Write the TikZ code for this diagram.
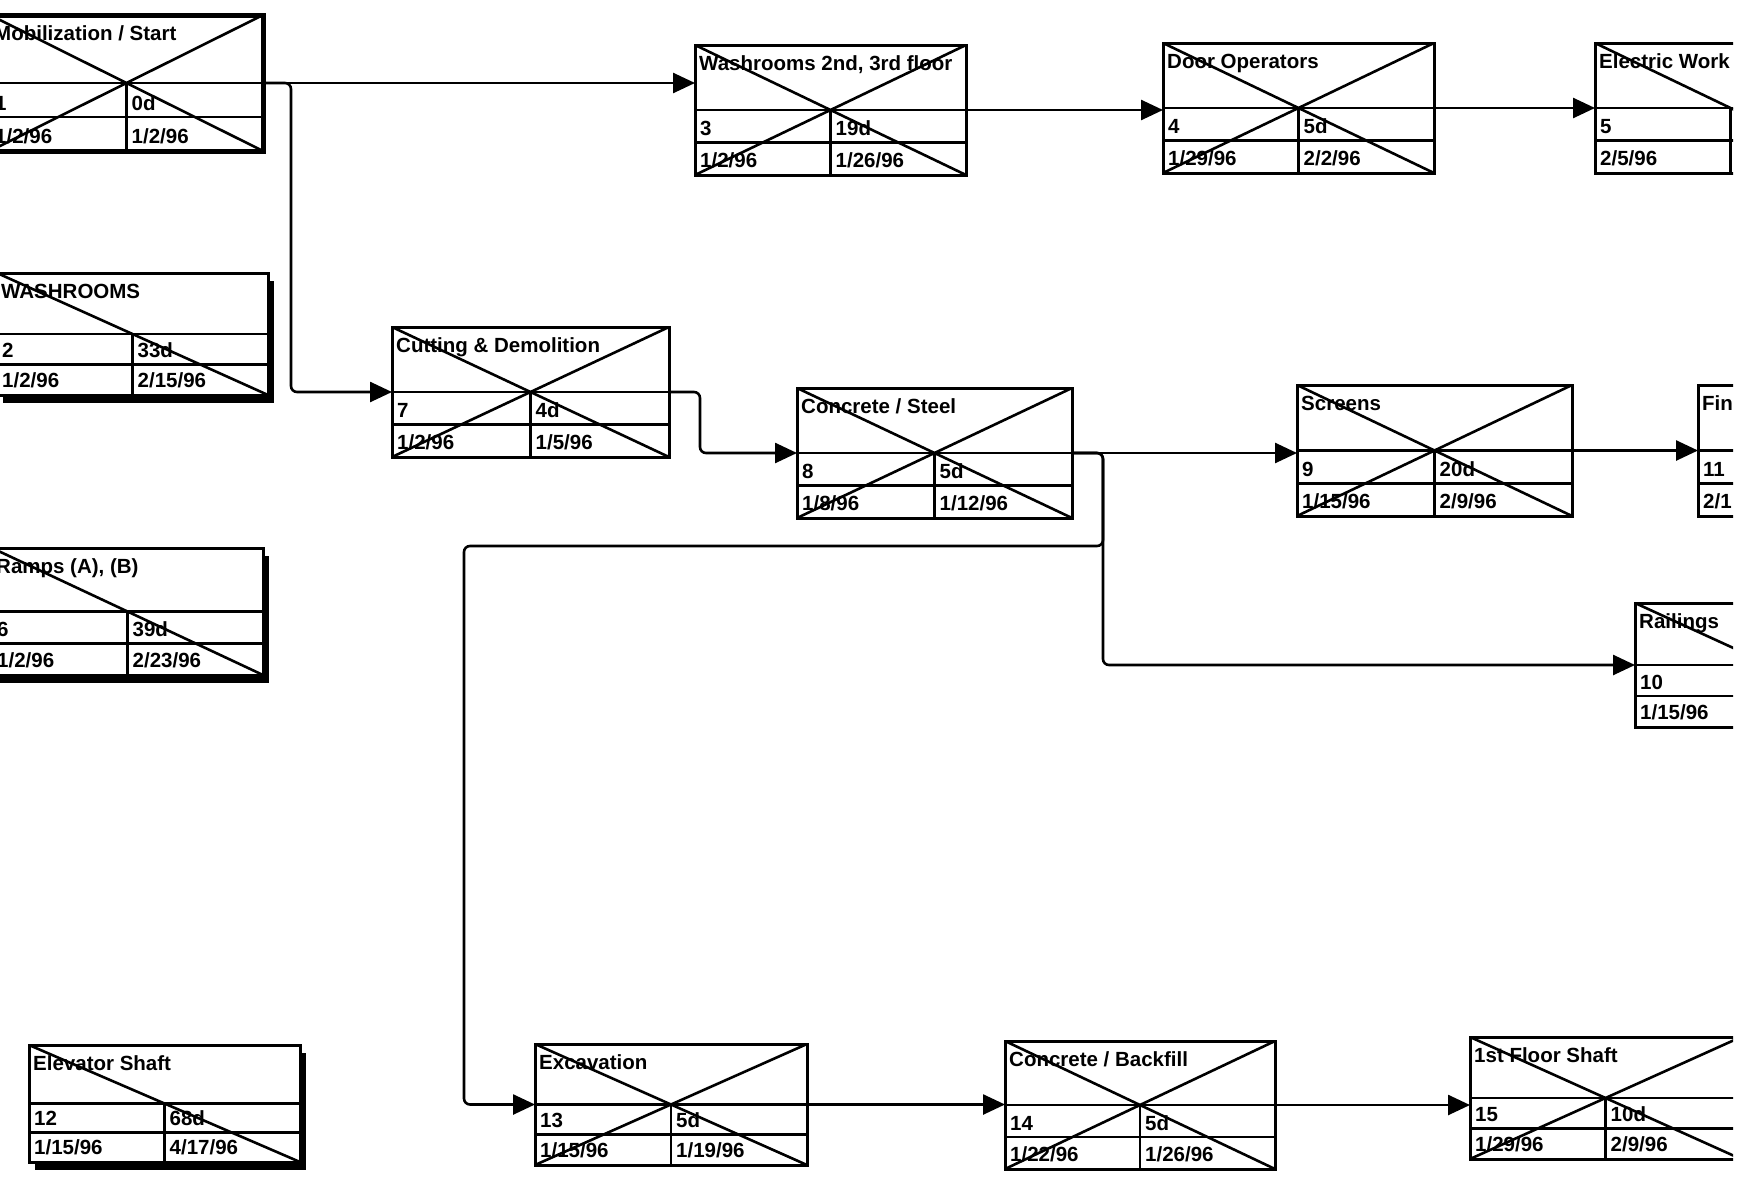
\documentclass[tikz,border=0pt]{standalone}
\usepackage{fontspec}
\setmainfont{Liberation Sans}
\usetikzlibrary{arrows.meta,calc,shadows}

\tikzset{
  pert/.style={draw, fill=white, line width=3pt, inner sep=0pt, outer sep=0pt,
    anchor=north west, minimum width=271pt, minimum height=130pt},
  cell/.style={line width=2.6pt},
  txt/.style={font=\fontsize{20.5}{24}\selectfont\bfseries, inner sep=0pt, anchor=base west},
  crossed/.style={path picture={
    \draw[cell] (path picture bounding box.north west) -- (path picture bounding box.south east)
                (path picture bounding box.south west) -- (path picture bounding box.north east);}},
  halfcrossed/.style={path picture={
    \draw[cell] (path picture bounding box.north west) -- (path picture bounding box.south east);}},
  shadowed/.style={drop shadow={shadow xshift=6pt, shadow yshift=-8pt, fill=black, opacity=1}},
  link/.style={draw, line width=2.6pt, rounded corners=6pt, -{Triangle[length=22pt,width=20pt]}}
}

% 任务框: 选项, 名称, 左上角, 名称文字, 编号, 工期, 开始, 结束
\newcommand{\pertbox}[8][]{%
  \node[pert, #1] (#2) at (#3) {};
  \draw[cell] (#2.west) -- (#2.east);
  \draw[cell] ($(#2.west)!.5!(#2.south west)$) -- ($(#2.east)!.5!(#2.south east)$);
  \draw[cell] (#2.center) -- (#2.south);
  \node[txt] at ($(#2.north west)+(4,25)$) {#4};
  \node[txt] at ($(#2.west)!.5!(#2.south west)+(5,-7)$) {#5};
  \node[txt] at ($(#2.center)!.5!(#2.south)+(5,-7)$) {#6};
  \node[txt] at ($(#2.south west)+(5,-8)$) {#7};
  \node[txt] at ($(#2.south)+(5,-8)$) {#8};
}

\begin{document}
\begin{tikzpicture}[x=1pt, y=-1pt]
  \useasboundingbox (0,0) rectangle (1741,1178);
  \begin{scope}
  \clip (0,0) rectangle (1733,1178);
  % 左列
  \pertbox[line width=5pt, crossed, minimum width=273pt, minimum height=136pt]{mob}{-10,15}{Mobilization / Start}{1}{0d}{1/2/96}{1/2/96}
  \pertbox[shadowed, halfcrossed, minimum height=122pt]{washrm}{-3,273}{WASHROOMS}{2}{33d}{1/2/96}{2/15/96}
  \pertbox[shadowed, halfcrossed, minimum height=127pt]{ramps}{-8,548}{Ramps (A), (B)}{6}{39d}{1/2/96}{2/23/96}
  \pertbox[shadowed, halfcrossed, minimum height=117pt]{elev}{29,1045}{Elevator Shaft}{12}{68d}{1/15/96}{4/17/96}
  % 上排
  \pertbox[crossed]{wash23}{695,45}{Washrooms 2nd, 3rd floor}{3}{19d}{1/2/96}{1/26/96}
  \pertbox[crossed]{door}{1163,43}{Door Operators}{4}{5d}{1/29/96}{2/2/96}
  \pertbox[halfcrossed]{elec}{1595,43}{Electric Work}{5}{}{2/5/96}{}
  % 中排
  \pertbox[crossed, minimum width=277pt]{cut}{392,327}{Cutting \& Demolition}{7}{4d}{1/2/96}{1/5/96}
  \pertbox[crossed, minimum width=275pt]{conc}{797,388}{Concrete / Steel}{8}{5d}{1/8/96}{1/12/96}
  \pertbox[crossed, minimum width=275pt, minimum height=131pt]{screens}{1297,385}{Screens}{9}{20d}{1/15/96}{2/9/96}
  \pertbox[minimum height=131pt]{fin}{1698,385}{Fin}{11}{}{2/1}{}
  \pertbox[halfcrossed, minimum height=124pt]{rail}{1635,603}{Railings}{10}{}{1/15/96}{}
  % 下排
  \pertbox[crossed, minimum width=272pt, minimum height=121pt]{exc}{535,1044}{Excavation}{13}{5d}{1/15/96}{1/19/96}
  \pertbox[crossed, minimum width=270pt, minimum height=128pt]{cback}{1005,1041}{Concrete / Backfill}{14}{5d}{1/22/96}{1/26/96}
  \pertbox[crossed, minimum height=122pt]{floor1}{1470,1037}{1st Floor Shaft}{15}{10d}{1/29/96}{2/9/96}
  % 连线
  \draw[link] (mob.east) -- (mob.east -| wash23.west);
  \draw[link] (mob.east) -- ++(28,0) |- (cut.west);
  \draw[link] (wash23.east) -- (wash23.east -| door.west);
  \draw[link] (door.east) -- (door.east -| elec.west);
  \draw[link] (cut.east) -- ++(31,0) |- (conc.west);
  \draw[link] (conc.east) -- (conc.east -| screens.west);
  \draw[link] (screens.east) -- (screens.east -| fin.west);
  \draw[link] (conc.east) -- ++(31,0) |- (rail.west);
  \draw[link] (conc.east) -- ++(31,0) -- ++(0,93) -- ++(-639,0) |- (exc.west);
  \draw[link] (exc.east) -- (exc.east -| cback.west);
  \draw[link] (cback.east) -- (cback.east -| floor1.west);
  \end{scope}
\end{tikzpicture}
\end{document}
